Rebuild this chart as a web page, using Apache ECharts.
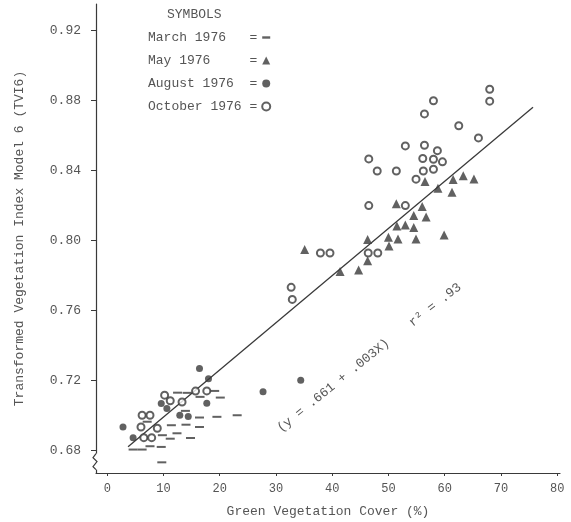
<!DOCTYPE html>
<html>
<head>
<meta charset="utf-8">
<script src="https://cdn.jsdelivr.net/npm/echarts@6/dist/echarts.min.js"></script>
<style>
html, body { margin: 0; padding: 0; background: #fff; }
#container { width: 571px; height: 522px; }
</style>
</head>
<body>
<div id="container"></div>
<script>
var xTicks = [0, 10, 20, 30, 40, 50, 60, 70, 80];
var yTicks = [0.68, 0.72, 0.76, 0.80, 0.84, 0.88, 0.92];

// March 1976 (dashes)
var march = [
  [4.6, 0.6804], [6.2, 0.6804], [7.6, 0.6823], [9.6, 0.6819], [9.7, 0.6731],
  [9.8, 0.6886], [11.2, 0.6866], [12.4, 0.6897], [14.8, 0.6870], [11.4, 0.6943],
  [14.0, 0.6946], [16.4, 0.6933], [16.4, 0.6987], [19.5, 0.6991], [23.1, 0.7000],
  [13.9, 0.7025], [12.5, 0.7129], [14.2, 0.7128], [16.5, 0.7105], [19.1, 0.7139],
  [20.1, 0.7101], [7.1, 0.6963]
];
// May 1976 (triangles)
var may = [
  [35.1, 0.7947], [41.4, 0.7821], [44.7, 0.7830], [46.3, 0.7883], [46.3, 0.8004],
  [50.1, 0.7967], [50.0, 0.8017], [51.7, 0.8007], [54.9, 0.8007], [59.9, 0.8030],
  [51.5, 0.8081], [53.0, 0.8087], [54.5, 0.8073], [54.5, 0.8142], [56.7, 0.8133],
  [51.4, 0.8209], [56.0, 0.8193], [56.5, 0.8336], [58.8, 0.8297], [61.3, 0.8274],
  [61.5, 0.8347], [63.3, 0.8369], [65.2, 0.8350]
];
// August 1976 (filled dots)
var august = [
  [16.4, 0.7267], [18.0, 0.7209], [27.7, 0.7134], [34.4, 0.7200], [17.7, 0.7069],
  [9.6, 0.7067], [10.6, 0.7039], [2.8, 0.6933], [4.6, 0.6872], [14.4, 0.6993],
  [12.9, 0.7000]
];
// October 1976 (open circles)
var october = [
  [10.2, 0.7115], [11.2, 0.7083], [6.2, 0.7000], [7.6, 0.7000], [6.0, 0.6933],
  [8.9, 0.6926], [6.5, 0.6872], [7.9, 0.6872], [13.3, 0.7076], [15.7, 0.7138],
  [17.7, 0.7139],
  [68.0, 0.8863], [68.0, 0.8795], [58.0, 0.8797], [56.4, 0.8722], [62.5, 0.8654],
  [66.0, 0.8585], [53.0, 0.8539], [56.4, 0.8543], [58.7, 0.8512], [46.5, 0.8465],
  [56.1, 0.8467], [58.0, 0.8463], [59.6, 0.8448], [48.0, 0.8396], [51.4, 0.8396],
  [56.2, 0.8396], [58.0, 0.8406], [54.9, 0.8349], [46.5, 0.8198], [53.0, 0.8198],
  [37.9, 0.7927], [39.6, 0.7927], [46.4, 0.7927], [48.1, 0.7927], [32.7, 0.7731],
  [32.9, 0.7662]
];
// fitted line as drawn
var fitLine = [[3.7, 0.682], [75.7, 0.876]];

var ink = '#3a3a3a';
var textColor = '#555';
var mono = 'Liberation Mono';

window.onload = function () {
    var dom = document.getElementById('container');
    var myChart = echarts.init(dom);

    var option = {
        animation: false,
        backgroundColor: '#fff',
        title: {
            text: 'SYMBOLS',
            left: 162,
            top: 3,
            textStyle: { fontFamily: mono, fontSize: 13, fontWeight: 'normal', color: textColor }
        },
        legend: {
            orient: 'vertical',
            left: 143,
            top: 26,
            align: 'right',
            itemWidth: 8,
            itemHeight: 8,
            itemGap: 10,
            textStyle: { fontFamily: mono, fontSize: 13, color: textColor },
            formatter: function (name) {
                var s = name;
                while (s.length < 12) s += ' ';
                return s + ' =';
            },
            data: [
                { name: 'March 1976', icon: 'path://M0,0 L10,0 L10,3 L0,3 Z' },
                { name: 'May 1976', icon: 'triangle' },
                { name: 'August 1976', icon: 'circle' },
                { name: 'October 1976', icon: 'circle' }
            ]
        },
        grid: { left: 96, right: 11, top: 4, bottom: 49, containLabel: false, outerBoundsMode: 'none' },
        xAxis: {
            type: 'value',
            min: -2,
            max: 80.5,
            name: 'Green Vegetation Cover (%)',
            nameLocation: 'middle',
            nameGap: 32,
            nameTextStyle: { fontFamily: mono, fontSize: 13, color: textColor },
            axisLine: { onZero: false, lineStyle: { color: ink, width: 1.2 } },
            axisTick: { customValues: xTicks, length: 3, lineStyle: { color: ink } },
            axisLabel: {
                customValues: xTicks, margin: 10,
                fontFamily: mono, fontSize: 12, color: textColor
            },
            splitLine: { show: false }
        },
        yAxis: {
            type: 'value',
            min: 0.667,
            max: 0.935,
            name: 'Transformed Vegetation Index Model 6 (TVI6)',
            nameLocation: 'middle',
            nameGap: 70,
            nameTextStyle: { fontFamily: mono, fontSize: 13, color: textColor },
            axisLine: { onZero: false, lineStyle: { color: ink, width: 1.2 } },
            axisTick: { customValues: yTicks, length: 5, lineStyle: { color: ink } },
            axisLabel: {
                customValues: yTicks, margin: 15,
                fontFamily: mono, fontSize: 13, color: textColor,
                formatter: function (v) { return v.toFixed(2); }
            },
            splitLine: { show: false }
        },
        series: [
            {
                name: 'fit', type: 'line', data: fitLine, showSymbol: false,
                lineStyle: { color: ink, width: 1.3 }, z: 1
            },
            {
                name: 'March 1976', type: 'scatter', data: march,
                symbol: 'rect', symbolSize: [9, 2],
                itemStyle: { color: ink }
            },
            {
                name: 'May 1976', type: 'scatter', data: may,
                symbol: 'triangle', symbolSize: 9,
                itemStyle: { color: ink }
            },
            {
                name: 'August 1976', type: 'scatter', data: august,
                symbol: 'circle', symbolSize: 7,
                itemStyle: { color: ink }
            },
            {
                name: 'October 1976', type: 'scatter', data: october,
                symbol: 'circle', symbolSize: 7,
                itemStyle: { color: '#fff', borderColor: ink, borderWidth: 2 }
            }
        ]
    };
    myChart.setOption(option, true);

    // annotations and the axis break, placed through the axis scales
    var deg = Math.PI / 180;
    var eq = myChart.convertToPixel({ gridIndex: 0 }, [40.2, 0.717]);
    var r2 = myChart.convertToPixel({ gridIndex: 0 }, [58.3, 0.763]);
    var brk = myChart.convertToPixel({ gridIndex: 0 }, [-2, 0.6735]);
    myChart.setOption({
        graphic: [
            {
                type: 'text', x: eq[0], y: eq[1], rotation: 39 * deg,
                style: {
                    text: '(y = .661 + .003X)', fontFamily: mono, fontSize: 13,
                    fill: textColor, align: 'center', verticalAlign: 'middle'
                }
            },
            {
                type: 'text', x: r2[0], y: r2[1], rotation: 38 * deg,
                style: {
                    text: 'r² = .93', fontFamily: mono, fontSize: 13,
                    fill: textColor, align: 'center', verticalAlign: 'middle'
                }
            },
            {
                type: 'rect', shape: { x: brk[0] - 2, y: brk[1] - 8, width: 4, height: 16 },
                style: { fill: '#fff' }, z: 100
            },
            {
                type: 'polyline', z: 101,
                shape: { points: [
                    [brk[0], brk[1] - 8], [brk[0] - 3, brk[1] - 4], [brk[0] + 1, brk[1]],
                    [brk[0] - 3, brk[1] + 5], [brk[0], brk[1] + 8]
                ] },
                style: { stroke: ink, lineWidth: 1.2, fill: null }
            }
        ]
    });
};
</script>
</body>
</html>
